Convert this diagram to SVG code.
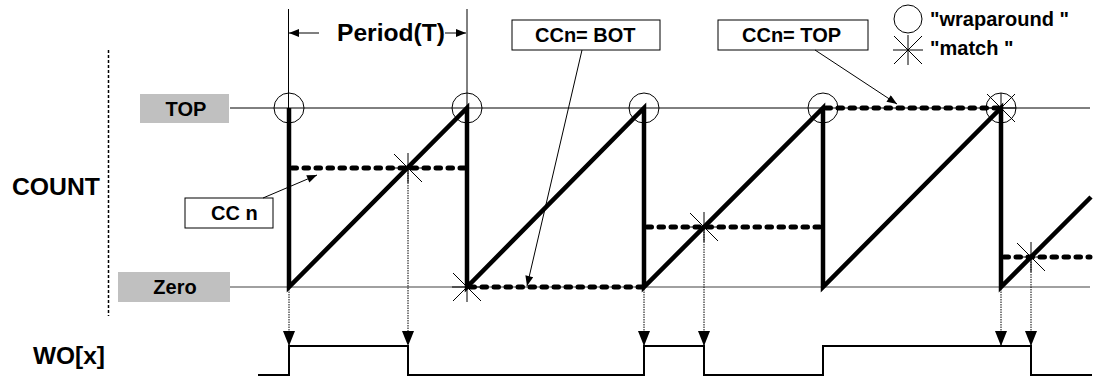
<svg xmlns="http://www.w3.org/2000/svg" width="1095" height="379" viewBox="0 0 1095 379">
<defs>
<marker id="ah" viewBox="0 0 10 8" refX="10" refY="4" markerWidth="11" markerHeight="8" markerUnits="userSpaceOnUse" orient="auto"><path d="M0,0 L10,4 L0,8 z" fill="#000"/></marker>
<marker id="ahd" viewBox="0 0 15 12" refX="15" refY="6" markerWidth="16" markerHeight="12" markerUnits="userSpaceOnUse" orient="auto"><path d="M0,0 L15,6 L0,12 z" fill="#000"/></marker>
<g id="wrap"><circle cx="0" cy="0" r="15" fill="none" stroke="#000" stroke-width="1"/></g>
<g id="match" stroke="#000" stroke-width="1"><line x1="-15" y1="0" x2="15" y2="0"/><line x1="0" y1="-15" x2="0" y2="15"/><line x1="-14" y1="-14" x2="14" y2="14"/><line x1="-14" y1="14" x2="14" y2="-14"/></g>
</defs>
<style>
.t{font-family:"Liberation Sans",Arial,sans-serif;font-weight:bold;fill:#000}
.big{font-size:23px}
.sm{font-size:20px}
.saw{fill:none;stroke:#000;stroke-width:4.5;stroke-linejoin:miter}
.cc{fill:none;stroke:#000;stroke-width:5;stroke-dasharray:4.5 7.5;stroke-linecap:round}
.drop{stroke:#000;stroke-width:1;stroke-dasharray:1.5 1;marker-end:url(#ahd)}
.thin{stroke:#000;stroke-width:1;fill:none}
.call{stroke:#000;stroke-width:1;fill:none;marker-end:url(#ah)}
.box{fill:#fff;stroke:#000;stroke-width:1}
.gbox{fill:#c0c0c0;stroke:none}
</style>
<rect width="1095" height="379" fill="#fff"/>

<g id="axis-count">
<line x1="108.5" y1="50" x2="108.5" y2="316" stroke="#000" stroke-width="1.5" stroke-dasharray="3 2"/>
<text class="t big" x="12" y="195" textLength="88" lengthAdjust="spacingAndGlyphs">COUNT</text>
</g>

<g id="label-top">
<rect class="gbox" x="140" y="94" width="89" height="29"/>
<text class="t sm" x="186" y="116" text-anchor="middle">TOP</text>
</g>
<g id="label-zero">
<rect class="gbox" x="118" y="272" width="112" height="30"/>
<text class="t sm" x="175" y="294" text-anchor="middle">Zero</text>
</g>
<g id="label-wo">
<text class="t big" x="33" y="364" textLength="72" lengthAdjust="spacingAndGlyphs">WO[x]</text>
</g>

<g id="levels">
<line x1="230" y1="108" x2="1090" y2="108" stroke="#000" stroke-width="1"/>
<line x1="230" y1="287" x2="1090" y2="287" stroke="#808080" stroke-width="1.5"/>
</g>

<g id="period">
<line class="thin" x1="288.5" y1="9" x2="288.5" y2="108"/>
<line class="thin" x1="467" y1="9" x2="467" y2="108"/>
<line class="call" x1="319" y1="33" x2="289" y2="33"/>
<line class="call" x1="445" y1="33" x2="466" y2="33"/>
<text class="t big" x="337" y="41" textLength="108" lengthAdjust="spacingAndGlyphs">Period(T)</text>
</g>

<g id="sawtooth">
<polyline class="saw" points="289,108 289,287 467,108 467,287 644,108 644,287 823,108 823,287 1001,108 1001,287 1091,197"/>
</g>

<g id="compare-levels">
<line class="cc" x1="292" y1="168" x2="466" y2="168"/>
<line class="cc" x1="470" y1="287" x2="642" y2="287"/>
<line class="cc" x1="647" y1="227" x2="821" y2="227"/>
<line class="cc" x1="826" y1="108" x2="999" y2="108"/>
<line class="cc" x1="1004" y1="257" x2="1090" y2="257"/>
</g>

<g id="wrap-marks">
<use href="#wrap" x="289" y="108"/>
<use href="#wrap" x="467" y="108"/>
<use href="#wrap" x="644" y="108"/>
<use href="#wrap" x="823" y="108"/>
<use href="#wrap" x="1001" y="108"/>
</g>
<g id="match-marks">
<use href="#match" x="408" y="168"/>
<use href="#match" x="467" y="287"/>
<use href="#match" x="704" y="227"/>
<use href="#match" x="1001" y="108"/>
<use href="#match" x="1031" y="257"/>
</g>

<g id="callout-ccn">
<rect class="box" x="185" y="198" width="88" height="30"/>
<text class="t sm" x="211" y="220">CC n</text>
</g>
<g id="callout-bot">
<rect class="box" x="512" y="20" width="148" height="30"/>
<text class="t sm" x="535" y="42">CCn= BOT</text>
</g>
<g id="callout-topcc">
<rect class="box" x="718" y="20" width="150" height="30"/>
<text class="t sm" x="742" y="42">CCn= TOP</text>
</g>

<g id="legend">
<circle cx="908" cy="19" r="14" fill="none" stroke="#000" stroke-width="1"/>
<use href="#match" x="908" y="50"/>
<text class="t sm" x="930" y="26">"wraparound "</text>
<text class="t sm" x="930" y="55">"match "</text>
</g>

<g id="connectors">
<line class="call" x1="263" y1="198" x2="317" y2="175"/>
<line class="call" x1="582" y1="50" x2="527" y2="286"/>
<line class="call" x1="815" y1="50" x2="897" y2="104"/>
<line class="drop" x1="289" y1="289" x2="289" y2="346"/>
<line class="drop" x1="408" y1="170" x2="408" y2="346"/>
<line class="drop" x1="644" y1="289" x2="644" y2="346"/>
<line class="drop" x1="704" y1="229" x2="704" y2="346"/>
<line class="drop" x1="1001" y1="289" x2="1001" y2="346"/>
<line class="drop" x1="1031" y1="259" x2="1031" y2="346"/>
</g>

<g id="waveform">
<polyline fill="none" stroke="#000" stroke-width="2" points="258,375 289,375 289,346 408,346 408,375 644,375 644,346 704,346 704,375 823,375 823,346 1031,346 1031,375 1092,375"/>
</g>
</svg>
